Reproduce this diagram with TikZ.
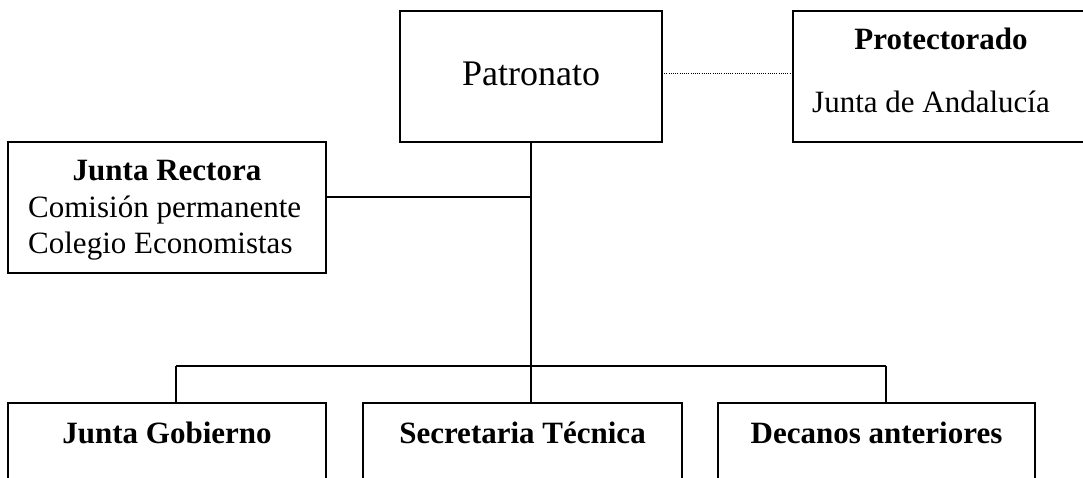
\documentclass[tikz,border=0pt]{standalone}
\usepackage{fontspec}
\setmainfont{Liberation Serif}
\begin{document}
\begin{tikzpicture}[x=1pt,y=-1pt,
  box/.style={draw, line width=1.4pt, inner sep=0pt, outer sep=0pt},
  conn/.style={line width=1.4pt},
  dotline/.style={line width=1pt, dash pattern=on 1pt off 1.2pt},
  lbl/.style={font=\fontsize{31}{36}\selectfont, inner sep=0pt, anchor=base},
  lblw/.style={font=\fontsize{31}{36}\selectfont, inner sep=0pt, anchor=base west},
  blbl/.style={font=\fontsize{31}{36}\selectfont\bfseries, inner sep=0pt, anchor=base},
  big/.style={font=\fontsize{36}{42}\selectfont, inner sep=0pt, anchor=base}]
\useasboundingbox (0,0) rectangle (1083,477);
\clip (0,0) rectangle (1083,477);

% boxes
\node[box, minimum width=262pt, minimum height=131pt] (pat) at (531,76.5) {};
\node[box, minimum width=297pt, minimum height=131pt] (prot) at (941.5,76.5) {};
\node[box, minimum width=318pt, minimum height=131pt] (jr) at (167,207.5) {};
\node[box, minimum width=318pt, minimum height=76pt] (jg) at (167,441) {};
\node[box, minimum width=319pt, minimum height=76pt] (st) at (522.5,441) {};
\node[box, minimum width=317pt, minimum height=76pt] (da) at (876.5,441) {};

% texts
\node[big] (patT) at (531,85) {Patronato};
\node[blbl] (protT) at (941,49) {Protectorado};
\node[lblw] (protS) at (812,112) {Junta de Andaluc\'ia};
\node[blbl] (jrT) at (167,180) {Junta Rectora};
\node[lblw] (jrA) at (28,217) {Comisi\'on permanente};
\node[lblw] (jrB) at (28,253) {Colegio Economistas};
\node[blbl] (jgT) at (167,443) {Junta Gobierno};
\node[blbl] (stT) at (522.5,443) {Secretaria T\'ecnica};
\node[blbl] (daT) at (876.5,443) {Decanos anteriores};

% connector coordinates
\coordinate (dl) at (700,73);
\coordinate (jrc) at (531,197);
\coordinate (jn) at (531,366);
\coordinate (bl) at (176,366);
\coordinate (br) at (886,366);

% connectors
\draw[dotline] (pat.east |- dl) -- (prot.west |- dl);
\draw[conn] (pat.south) -- (jn);
\draw[conn] (jr.east |- jrc) -- (jrc);
\draw[conn] (bl) -- (br);
\draw[conn] (bl) -- (bl |- jg.north);
\draw[conn] (jn) -- (jn |- st.north);
\draw[conn] (br) -- (br |- da.north);
\end{tikzpicture}
\end{document}
